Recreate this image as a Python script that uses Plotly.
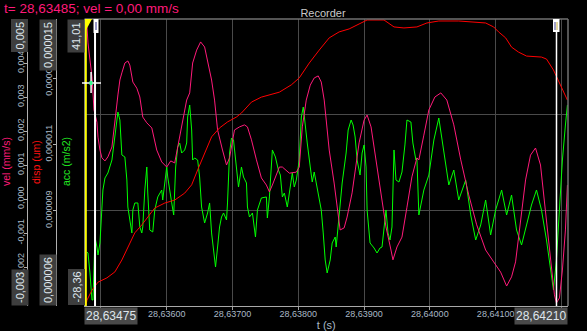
import plotly.graph_objects as go

# ---------------- data ----------------
t_vel = [28.634788, 28.634803, 28.634833, 28.634864, 28.634879, 28.634894, 28.634939, 28.634955,
         28.634985, 28.635015, 28.635061, 28.635106, 28.635167, 28.635212, 28.635227, 28.635258,
         28.635288, 28.635318, 28.635364, 28.635409, 28.635439, 28.635485, 28.635545, 28.635591,
         28.635636, 28.635697, 28.635773, 28.635848, 28.635924, 28.636000, 28.636061, 28.636121,
         28.636182, 28.636242, 28.636303, 28.636349, 28.636394, 28.636455, 28.636515, 28.636576,
         28.636621, 28.636682, 28.636727, 28.636773, 28.636848, 28.636909, 28.636955, 28.637030,
         28.637106, 28.637182, 28.637227, 28.637288, 28.637364, 28.637439, 28.637515, 28.637561,
         28.637606, 28.637712, 28.637758, 28.637864, 28.637970, 28.638015, 28.638061, 28.638121,
         28.638182, 28.638242, 28.638303, 28.638349, 28.638394, 28.638470, 28.638545, 28.638591,
         28.638636, 28.638697, 28.638742, 28.638818, 28.638924, 28.639000, 28.639046, 28.639106,
         28.639182, 28.639258, 28.639333, 28.639409, 28.639439, 28.639500, 28.639576, 28.639652,
         28.639727, 28.639803, 28.639833, 28.639909, 28.639985, 28.640076, 28.640167, 28.640258,
         28.640364, 28.640470, 28.640591, 28.640712, 28.640848, 28.640970, 28.641076, 28.641167,
         28.641242, 28.641303, 28.641379, 28.641455, 28.641530, 28.641606, 28.641682, 28.641758,
         28.641833, 28.641894, 28.641924, 28.641970, 28.642015, 28.642061, 28.642091]
vel = [0.00506, 0.00459, 0.00409, 0.00359, 0.00312, 0.00262, 0.00226, 0.00182,
       0.00144, 0.00121, 0.00112, 0.00124, 0.00153, 0.00218, 0.00253, 0.00306,
       0.00350, 0.00371, 0.00400, 0.00406, 0.00394, 0.00344, 0.00326, 0.00300,
       0.00241, 0.00224, 0.00209, 0.00144, 0.00109, 0.00094, 0.00112, 0.00106,
       0.00165, 0.00232, 0.00291, 0.00312, 0.00400, 0.00438, 0.00462, 0.00447,
       0.00409, 0.00350, 0.00291, 0.00203, 0.00144, 0.00100, 0.00121, 0.00203,
       0.00212, 0.00218, 0.00212, 0.00174, 0.00115, 0.00062, 0.00041, 0.00021,
       0.00041, 0.00094, 0.00094, 0.00076, 0.00079, 0.00094, 0.00212, 0.00291,
       0.00335, 0.00356, 0.00362, 0.00344, 0.00291, 0.00144, 0.00047, -0.00032,
       -0.00091, -0.00085, -0.00053, 0.00018, 0.00165, 0.00232, 0.00247, 0.00212,
       0.00115, 0.00026, -0.00082, -0.00150, -0.00179, -0.00141, -0.00112, -0.00024,
       0.00065, 0.00121, 0.00115, 0.00188, 0.00262, 0.00300, 0.00312, 0.00291,
       0.00218, 0.00115, 0.00012, -0.00076, -0.00150, -0.00185, -0.00215, -0.00256,
       -0.00229, -0.00185, -0.00062, 0.00056, 0.00129, 0.00150, 0.00100, -0.00032,
       -0.00179, -0.00282, -0.00306, -0.00291, -0.00209, -0.00091, 0.00041]

t_disp = [28.634773, 28.634788, 28.634864, 28.634955, 28.635091, 28.635212, 28.635318, 28.635409,
          28.635515, 28.635621, 28.635712, 28.635818, 28.635970, 28.636121, 28.636273, 28.636379,
          28.636470, 28.636576, 28.636682, 28.636803, 28.636924, 28.637061, 28.637136, 28.637288,
          28.637439, 28.637712, 28.637894, 28.638015, 28.638167, 28.638318, 28.638470, 28.638621,
          28.638773, 28.638924, 28.639046, 28.639303, 28.639455, 28.639606, 28.639803, 28.639955,
          28.640136, 28.640439, 28.640742, 28.640848, 28.640970, 28.641045, 28.641152, 28.641242,
          28.641348, 28.641470, 28.641697, 28.641773, 28.641879, 28.641985, 28.642091]
disp = [6.15e-6, 6.30e-6, 6.60e-6, 6.84e-6, 6.97e-6, 7.15e-6, 7.51e-6, 7.90e-6,
        8.33e-6, 8.57e-6, 8.81e-6, 9.08e-6, 9.23e-6, 9.32e-6, 9.53e-6, 9.78e-6,
        10.23e-6, 10.74e-6, 11.23e-6, 11.50e-6, 11.68e-6, 11.83e-6, 11.95e-6, 12.28e-6,
        12.43e-6, 12.58e-6, 12.80e-6, 13.01e-6, 13.46e-6, 13.85e-6, 14.22e-6, 14.40e-6,
        14.49e-6, 14.64e-6, 14.76e-6, 14.76e-6, 14.55e-6, 14.52e-6, 14.55e-6, 14.67e-6,
        14.73e-6, 14.73e-6, 14.67e-6, 14.67e-6, 14.55e-6, 14.40e-6, 14.22e-6, 13.94e-6,
        13.79e-6, 13.67e-6, 13.64e-6, 13.58e-6, 13.25e-6, 12.80e-6, 12.34e-6]

t_acc = [28.634788, 28.634803, 28.634833, 28.634864, 28.634879, 28.634909, 28.634939, 28.634955,
         28.634985, 28.635015, 28.635030, 28.635061, 28.635106, 28.635167, 28.635212, 28.635258,
         28.635288, 28.635318, 28.635364, 28.635394, 28.635409, 28.635470, 28.635485, 28.635515,
         28.635561, 28.635591, 28.635621, 28.635636, 28.635667, 28.635697, 28.635712, 28.635742,
         28.635788, 28.635818, 28.635864, 28.635924, 28.635939, 28.635970, 28.636000, 28.636015,
         28.636046, 28.636076, 28.636106, 28.636136, 28.636167, 28.636197, 28.636227, 28.636273,
         28.636303, 28.636318, 28.636349, 28.636379, 28.636394, 28.636424, 28.636470, 28.636500,
         28.636530, 28.636576, 28.636621, 28.636652, 28.636682, 28.636712, 28.636742, 28.636773,
         28.636803, 28.636833, 28.636864, 28.636909, 28.636924, 28.636955, 28.636985, 28.637015,
         28.637061, 28.637091, 28.637136, 28.637167, 28.637212, 28.637227, 28.637258, 28.637303,
         28.637349, 28.637379, 28.637439, 28.637515, 28.637530, 28.637561, 28.637606, 28.637652,
         28.637697, 28.637727, 28.637758, 28.637788, 28.637833, 28.637864, 28.637909, 28.637939,
         28.637970, 28.638015, 28.638046, 28.638076, 28.638106, 28.638136, 28.638182, 28.638212,
         28.638242, 28.638273, 28.638318, 28.638349, 28.638379, 28.638409, 28.638439, 28.638485,
         28.638515, 28.638561, 28.638576, 28.638621, 28.638667, 28.638727, 28.638758, 28.638803,
         28.638833, 28.638864, 28.638894, 28.638939, 28.638970, 28.639000, 28.639030, 28.639046,
         28.639091, 28.639152, 28.639197, 28.639242, 28.639273, 28.639333, 28.639364, 28.639394,
         28.639424, 28.639455, 28.639485, 28.639530, 28.639576, 28.639621, 28.639652, 28.639712,
         28.639742, 28.639788, 28.639803, 28.639833, 28.639909, 28.639985, 28.640061, 28.640136,
         28.640212, 28.640288, 28.640364, 28.640439, 28.640545, 28.640621, 28.640697, 28.640773,
         28.640848, 28.640924, 28.641000, 28.641091, 28.641167, 28.641242, 28.641318, 28.641394,
         28.641470, 28.641545, 28.641621, 28.641697, 28.641773, 28.641833, 28.641879, 28.641924,
         28.641970, 28.642015, 28.642061, 28.642091]
acc = [-15.31, -15.55, -20.38, -26.91, -26.91, -11.68, -14.10, -16.03,
       -13.13, -4.43, -0.32, 2.58, 3.79, 6.93, 13.46, 18.53,
       16.60, 8.14, 7.66, 2.10, -4.43, -10.71, -5.15, -3.46,
       -3.46, -9.26, -10.71, -9.26, -0.32, 5.24, -1.05, -9.99,
       -10.47, -5.15, -2.01, -0.32, -2.74, 1.37, 5.24, 2.82,
       -1.05, -3.46, -6.36, 5.24, 10.07, 11.04, 8.62, 9.35,
       11.04, 17.32, 20.22, 14.18, 6.93, 7.41, 6.93, 2.82,
       -4.43, -8.30, -5.88, -3.46, -10.71, -14.82, -18.93, -14.10,
       -9.26, -6.85, -5.88, -7.57, -3.46, 8.62, 12.25, 11.76,
       4.51, 0.40, 5.24, 2.82, 1.37, -4.43, -6.85, -5.88,
       -11.68, -5.15, -2.25, -2.01, -7.09, -2.01, 9.35, 7.66,
       4.51, 3.30, -2.01, -1.05, -4.43, -0.80, 3.79, 0.40,
       2.10, 6.93, 17.32, 19.74, 14.91, 11.04, 5.24, 1.61,
       4.03, 1.37, -2.25, -5.15, -10.71, -17.24, -20.38, -17.24,
       -13.13, -11.68, -14.10, -6.85, 1.37, 8.62, 14.18, 16.60,
       15.39, 12.49, 6.93, 3.30, 8.62, 10.56, 5.24, -5.15,
       -13.13, -14.34, -15.55, -14.34, -14.10, -5.15, -10.71, -12.41,
       -9.26, 9.35, 2.10, 1.61, 4.03, 10.56, 16.60, 16.11,
       11.04, 6.93, 7.41, -6.36, -0.32, 3.30, 11.76, 17.08,
       9.35, 0.89, 4.51, -2.74, 2.10, -6.36, -12.41, -8.78,
       -2.74, -11.20, -5.15, -0.32, -6.36, -1.53, -9.99, -13.61,
       -8.78, -3.95, -0.32, -5.15, -12.41, -19.66, -24.49, -17.24,
       -5.15, 6.93, 15.39, 20.22]

x_range = [28.63475, 28.64210]
x_ticks = [28.635, 28.636, 28.637, 28.638, 28.639, 28.640, 28.641, 28.642]
vel_range = [-0.003147, 0.005294]
vel_ticks = [-0.002, -0.001, 0.0, 0.001, 0.002, 0.003, 0.004]
disp_range = [6.12e-6, 14.79e-6]
disp_ticks = [7e-6, 9e-6, 11e-6, 13e-6]
acc_range = [-28.36, 41.01]

status_text = "t= 28,63485; vel = 0,00 mm/s"
cursor_yellow_t = 28.63477
cursor_white_t = 28.63491
cursor_right_t = 28.641925
crosshair_t = 28.63485

# ---------------- layout helpers ----------------
W, H = 587, 331
ML, MR, MT, MB = 0, 19, 19, 25
PW, PH = W - ML - MR, H - MT - MB
FONT = "Liberation Sans, Arial, sans-serif"
TICKCOL = "#a9b8c6"
BOXBG = "#3e3e3e"
BOXTXT = "#dfe6ec"
PINK = "#ff1a7a"


def fx(p):
    return (p - ML) / PW


def fy(p):
    return (H - MB - p) / PH


def comma(v, fmt):
    return format(v, fmt).replace(".", ",")


fig = go.Figure()
fig.add_trace(go.Scatter(x=t_disp, y=disp, yaxis="y3", mode="lines",
                         line=dict(color="#ff0000", width=1), name="disp", hoverinfo="skip"))
fig.add_trace(go.Scatter(x=t_acc, y=acc, yaxis="y", mode="lines",
                         line=dict(color="#00ff00", width=1), name="acc", hoverinfo="skip"))
fig.add_trace(go.Scatter(x=t_vel, y=vel, yaxis="y2", mode="lines",
                         line=dict(color=PINK, width=1), name="vel", hoverinfo="skip"))

axis_common = dict(showgrid=False, zeroline=False, automargin=False)

fig.update_layout(
    width=W, height=H,
    margin=dict(l=ML, r=MR, t=MT, b=MB, pad=0),
    paper_bgcolor="#000000", plot_bgcolor="#000000",
    showlegend=False,
    font=dict(family=FONT, color=TICKCOL, size=9),
    title=dict(text="Recorder", x=fx(323), xref="paper", xanchor="center",
               y=1 - 13 / H, yref="container", yanchor="middle",
               font=dict(size=11, color="#c9c9c9", family=FONT)),
    xaxis=dict(domain=[fx(84.5), 1], range=x_range, anchor="y",
               tickvals=x_ticks,
               ticktext=["" if (v == x_ticks[0] or v == x_ticks[-1]) else comma(v, ".5f") for v in x_ticks],
               ticks="outside", ticklen=3, tickcolor="#a0a0a0", ticklabelstandoff=-4,
               tickfont=dict(size=9, color=TICKCOL),
               showline=True, linecolor="#a8a8a8", linewidth=1,
               showgrid=True, gridcolor="#4a4a4a", gridwidth=1, zeroline=False,
               title=dict(text="t (s)", font=dict(size=11, color=TICKCOL), standoff=3),
               automargin=False),
    yaxis=dict(range=acc_range, anchor="x", side="left", showticklabels=False,
               ticks="", showline=True, linecolor="#7a7a7a", **axis_common),
    yaxis2=dict(range=vel_range, overlaying="y", anchor="free", position=fx(27), side="left",
                tickvals=vel_ticks, ticktext=[comma(v, ".3f") for v in vel_ticks],
                tickangle=-90, ticks="outside", ticklen=3, tickcolor="#b0b0b0",
                ticklabelstandoff=-4,
                tickfont=dict(size=9, color=TICKCOL),
                showline=True, linecolor="#b0b0b0", linewidth=1, **axis_common),
    yaxis3=dict(range=disp_range, overlaying="y", anchor="free", position=fx(56), side="left",
                tickvals=disp_ticks, ticktext=[comma(v, ".6f") for v in disp_ticks],
                tickangle=-90, ticks="outside", ticklen=3, tickcolor="#b0b0b0",
                ticklabelstandoff=-3,
                tickfont=dict(size=9, color=TICKCOL),
                showline=True, linecolor="#b0b0b0", linewidth=1, **axis_common),
    yaxis4=dict(range=[0, 3], overlaying="y", anchor="x", side="right", tick0=0, dtick=1,
                showgrid=True, gridcolor="#4a4a4a", gridwidth=1, showticklabels=False,
                ticks="", showline=False, zeroline=False, automargin=False),
)

# an invisible point so the grid axis is drawn
fig.add_trace(go.Scatter(x=[x_range[0]], y=[0], yaxis="y4", mode="markers",
                         marker=dict(opacity=0), hoverinfo="skip"))

shapes = []
# frame (top / right)
shapes.append(dict(type="line", xref="paper", yref="paper", x0=fx(84.5), x1=1, y0=1, y1=1,
                   line=dict(color="#707070", width=1.5)))
shapes.append(dict(type="line", xref="paper", yref="paper", x0=1, x1=1, y0=0, y1=1,
                   line=dict(color="#707070", width=1.5)))
# cursors
shapes.append(dict(type="line", xref="x", yref="paper", x0=cursor_yellow_t, x1=cursor_yellow_t,
                   y0=0, y1=1, line=dict(color="#ffff00", width=2)))
shapes.append(dict(type="line", xref="x", yref="paper", x0=cursor_white_t, x1=cursor_white_t,
                   y0=0, y1=1, line=dict(color="#ffffff", width=2)))
shapes.append(dict(type="line", xref="x", yref="paper", x0=cursor_right_t, x1=cursor_right_t,
                   y0=0, y1=1, line=dict(color="#ffffff", width=1.5)))
# yellow flag
shapes.append(dict(type="path", xref="paper", yref="paper",
                   path=f"M {fx(85)},{fy(19)} L {fx(92)},{fy(19)} L {fx(86)},{fy(30)} Z",
                   fillcolor="#ffff00", line=dict(color="#ffff00", width=0)))
# white flag left
shapes.append(dict(type="rect", xref="paper", yref="paper", x0=fx(93.5), x1=fx(98.5),
                   y0=fy(33), y1=fy(19), fillcolor="#ffffff", line=dict(width=0)))
shapes.append(dict(type="line", xref="paper", yref="paper", x0=fx(96), x1=fx(96),
                   y0=fy(30), y1=fy(22), line=dict(color="#303090", width=1)))
# right flag
shapes.append(dict(type="rect", xref="paper", yref="paper", x0=fx(553), x1=fx(559.5),
                   y0=fy(32), y1=fy(19), fillcolor="#ffffff", line=dict(width=0)))
shapes.append(dict(type="line", xref="paper", yref="paper", x0=fx(555), x1=fx(555),
                   y0=fy(30), y1=fy(22), line=dict(color="#404090", width=1)))
shapes.append(dict(type="line", xref="paper", yref="paper", x0=fx(557), x1=fx(557),
                   y0=fy(30), y1=fy(22), line=dict(color="#c8b040", width=1)))
# crosshair
shapes.append(dict(type="line", xref="x", yref="paper", x0=crosshair_t, x1=crosshair_t,
                   y0=fy(93), y1=fy(72), line=dict(color="#ffffff", width=1.5)))
shapes.append(dict(type="line", xref="paper", yref="paper", x0=fx(82), x1=fx(101),
                   y0=fy(83), y1=fy(83), line=dict(color="#ffffff", width=1.5)))
shapes.append(dict(type="rect", xref="paper", yref="paper", x0=fx(89.5), x1=fx(92.5),
                   y0=fy(85), y1=fy(81), fillcolor="#30ff90", line=dict(width=0)))
fig.update_layout(shapes=shapes)

ann = []


def box(text, xc, top=None, bottom=None):
    d = dict(text=text, xref="paper", yref="paper", x=fx(xc), xanchor="center",
             textangle=-90, showarrow=False, bgcolor=BOXBG, borderpad=2,
             font=dict(size=11, color=BOXTXT, family=FONT))
    if top is not None:
        d.update(y=fy(top), yanchor="top")
    else:
        d.update(y=fy(bottom), yanchor="bottom")
    return d


ann.append(box(comma(vel_range[1], ".3f"), 19.5, top=19))
ann.append(box(comma(disp_range[1], ".6f"), 48, top=19))
ann.append(box(comma(acc_range[1], ".2f"), 76, top=19))
ann.append(box(comma(vel_range[0], ".3f"), 19.5, bottom=306))
ann.append(box(comma(disp_range[0], ".6f"), 48, bottom=306))
ann.append(box(comma(acc_range[0], ".2f"), 76, bottom=306))

# x-range boxes
ann.append(dict(text=comma(x_range[0], ".5f"), xref="paper", yref="paper", x=fx(84), xanchor="left",
                y=fy(307), yanchor="top", showarrow=False, bgcolor="#4a4a4a", borderpad=1,
                font=dict(size=12, color=BOXTXT, family=FONT)))
ann.append(dict(text=comma(x_range[1], ".5f"), xref="paper", yref="paper", x=fx(568), xanchor="right",
                y=fy(307), yanchor="top", showarrow=False, bgcolor="#4a4a4a", borderpad=1,
                font=dict(size=12, color=BOXTXT, family=FONT)))

# axis titles
for txt, col, xc in [("vel (mm/s)", PINK, 6), ("disp (um)", "#ff1010", 36), ("acc (m/s2)", "#22e622", 66)]:
    ann.append(dict(text=txt, xref="paper", yref="paper", x=fx(xc), y=fy(162), xanchor="center",
                    yanchor="middle", textangle=-90, showarrow=False,
                    font=dict(size=10.5, color=col, family=FONT)))

# status line
ann.append(dict(text=status_text, xref="paper", yref="paper", x=fx(2), y=fy(8), xanchor="left",
                yanchor="middle", showarrow=False, font=dict(size=13.5, color=PINK, family=FONT)))

fig.update_layout(annotations=ann)

fig.write_html("out.html")
